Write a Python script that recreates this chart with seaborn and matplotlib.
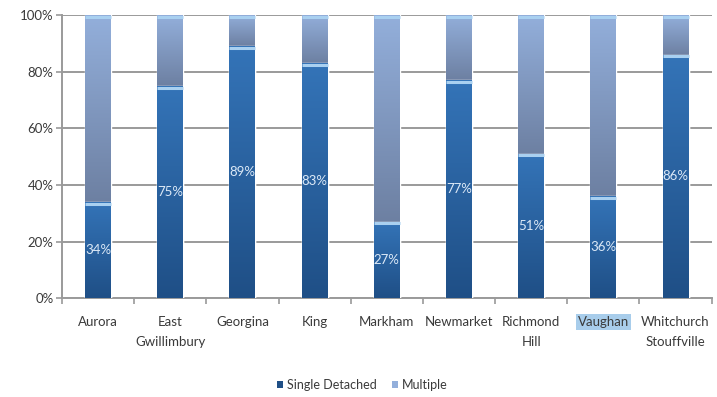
import numpy as np
import pandas as pd
import matplotlib
matplotlib.use("Agg")
import matplotlib.pyplot as plt
from matplotlib.colors import LinearSegmentedColormap
from matplotlib.patches import Patch
import seaborn as sns

# Housing mix by municipality (share of dwellings, %)
municipalities = ["Aurora", "East\nGwillimbury", "Georgina", "King", "Markham",
                  "Newmarket", "Richmond\nHill", "Vaughan", "Whitchurch\nStouffville"]
single_detached = [34, 75, 89, 83, 27, 77, 51, 36, 86]
multiple = [66, 25, 11, 17, 73, 23, 49, 64, 14]
y_ticks = [0, 20, 40, 60, 80, 100]

df = pd.DataFrame({
    "municipality": municipalities,
    "Single Detached": single_detached,
    "Multiple": multiple,
})
df["total"] = df["Single Detached"] + df["Multiple"]

sns.set_theme(style="white")
plt.rcParams["font.family"] = ["Lato", "DejaVu Sans"]

fig = plt.figure(figsize=(7.17, 3.97), dpi=100)
ax = fig.add_axes([0.0865, 0.249, 0.906, 0.713])

single_top = "#3474b8"
single_bot = "#1f4f86"
multi_top = "#93afdb"
multi_bot = "#6d80a2"
text_col = "#3a3a3a"

sns.barplot(data=df, x="municipality", y="total", color=multi_top,
            width=0.36, saturation=1, ax=ax, zorder=3)
sns.barplot(data=df, x="municipality", y="Single Detached", color=single_top,
            width=0.36, saturation=1, ax=ax, zorder=4)

# vertical gradient fill and a light cap on each segment
grad = np.linspace(1, 0, 256).reshape(-1, 1)
cmap_multi = LinearSegmentedColormap.from_list("m", [multi_bot, multi_top])
cmap_single = LinearSegmentedColormap.from_list("s", [single_bot, single_top])
n = len(municipalities)
patches = list(ax.patches)
for i, p in enumerate(patches):
    x0, w = p.get_x(), p.get_width()
    y0, h = p.get_y(), p.get_height()
    cmap = cmap_multi if i < n else cmap_single
    z = 3.5 if i < n else 4.5
    y_lo = single_detached[i] if i < n else 0
    im = ax.imshow(grad, extent=[x0, x0 + w, y_lo, y0 + h], aspect="auto",
                   cmap=cmap, zorder=z, interpolation="bicubic")
    im.set_clip_path(p)
    ax.plot([x0, x0 + w], [y0 + h - 0.6, y0 + h - 0.6], color="#a9d0f0",
            lw=2.2, solid_capstyle="butt", zorder=z + 0.2)

# value labels centred in the Single Detached segment
for i, v in enumerate(single_detached):
    ax.text(i, v / 2, f"{v}%", ha="center", va="center", fontsize=9.5,
            color="#dce9f7", zorder=6)

ax.set_xlim(-0.5, n - 0.5)
ax.set_ylim(0, 100)
ax.set_yticks(y_ticks)
ax.set_yticklabels([f"{t}%" for t in y_ticks], fontsize=9.5, color=text_col)
ax.yaxis.grid(True, color="#9a9a9a", lw=1.4, zorder=0)
ax.set_axisbelow(True)
ax.set_xlabel("")
ax.set_ylabel("")

# category ticks sit between bars
ax.set_xticks(np.arange(-0.5, n, 1.0), minor=False)
ax.set_xticklabels([])
ax.set_xticks(np.arange(n), minor=True)
ax.set_xticklabels(municipalities, minor=True, fontsize=9.5, color=text_col,
                   linespacing=1.75)
ax.tick_params(axis="x", which="major", length=4, color="#9a9a9a", width=1.2,
               bottom=True)
ax.tick_params(axis="x", which="minor", length=0, pad=13)
ax.tick_params(axis="y", length=4, color="#9a9a9a", width=1.2, left=True, pad=2)

for lab in ax.get_xticklabels(minor=True):
    if lab.get_text() == "Vaughan":
        lab.set_bbox(dict(facecolor="#a8cdeb", edgecolor="none", pad=1.5))

for side in ["top", "right"]:
    ax.spines[side].set_visible(False)
for side in ["left", "bottom"]:
    ax.spines[side].set_color("#9a9a9a")
    ax.spines[side].set_linewidth(1.4)

handles = [Patch(facecolor=single_bot, edgecolor="none"),
           Patch(facecolor=multi_top, edgecolor="none")]
fig.legend(handles, ["Single Detached", "Multiple"], loc="center",
           bbox_to_anchor=(0.505, 0.03), ncol=2, frameon=False, fontsize=9,
           handlelength=0.5, handleheight=0.5, handletextpad=0.3,
           columnspacing=1.2, labelcolor=text_col)

fig.savefig("out.png", dpi=100, facecolor="white")
